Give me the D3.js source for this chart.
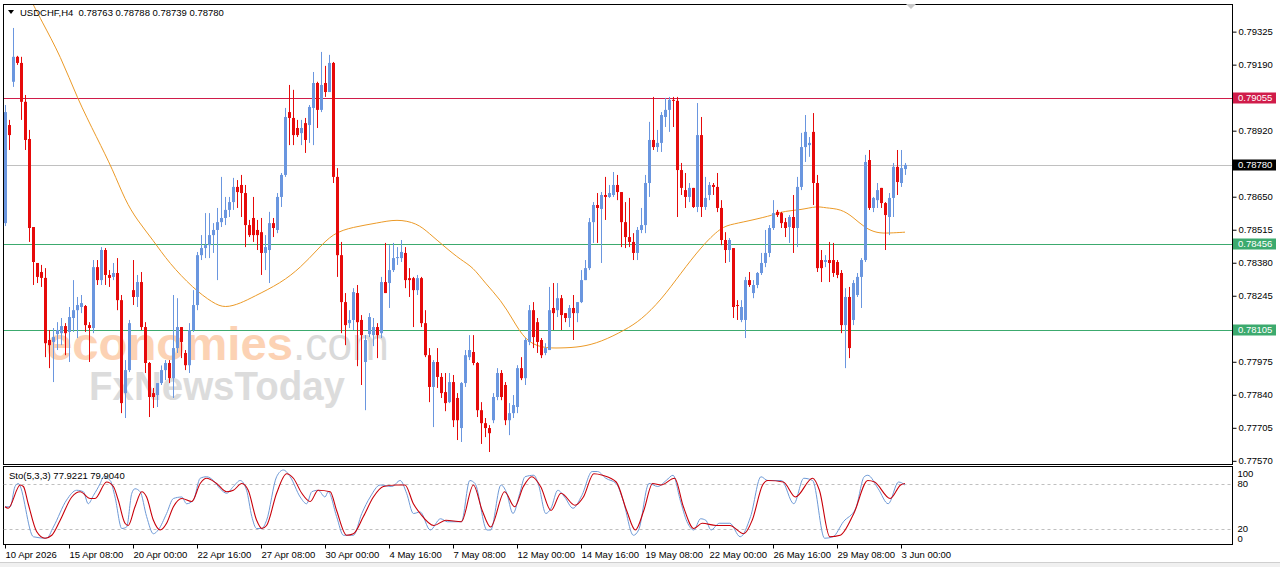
<!DOCTYPE html>
<html>
<head>
<meta charset="utf-8">
<script src="https://cdn.jsdelivr.net/npm/d3@7"></script>
<style>
body{margin:0;background:#fff;}
svg text{font-family:"Liberation Sans",Arial,sans-serif;font-size:9.5px;fill:#000;}
</style>
</head>
<body>
<div class="canvas"></div>
<script>
const symbol = "USDCHF,H4";
const lastQuote = [0.78763, 0.78788, 0.78739, 0.78780];
const stoLast = [77.9221, 79.9040];

// open, high, low, close for every H4 bar
const ohlc = [
[0.78542,0.79025,0.78530,0.78996],[0.78943,0.78964,0.78841,0.78902],[0.79120,0.79340,0.79099,0.79222],[0.79222,0.79226,0.79189,0.79197],
[0.79197,0.79222,0.78964,0.79038],[0.79038,0.79066,0.78841,0.78882],[0.78886,0.78923,0.78465,0.78522],[0.78526,0.78526,0.78289,0.78383],
[0.78379,0.78379,0.78297,0.78322],[0.78342,0.78371,0.78281,0.78318],[0.78318,0.78358,0.77994,0.78051],[0.78064,0.78105,0.77949,0.78043],
[0.78056,0.78113,0.77892,0.78076],[0.78088,0.78137,0.78023,0.78105],[0.78092,0.78154,0.78043,0.78121],[0.78121,0.78133,0.78002,0.78092],
[0.78097,0.78199,0.77974,0.78158],[0.78154,0.78309,0.78097,0.78186],[0.78186,0.78240,0.78072,0.78207],[0.78199,0.78248,0.78174,0.78215],
[0.78203,0.78207,0.78097,0.78125],[0.78125,0.78137,0.77974,0.78113],[0.78113,0.78391,0.78092,0.78362],[0.78362,0.78391,0.78289,0.78309],
[0.78309,0.78444,0.78289,0.78432],[0.78432,0.78440,0.78289,0.78330],[0.78330,0.78350,0.78281,0.78318],[0.78322,0.78379,0.78309,0.78338],
[0.78338,0.78399,0.78186,0.78227],[0.78227,0.78248,0.77765,0.77806],[0.77847,0.77982,0.77745,0.77941],[0.77941,0.78146,0.77933,0.78133],
[0.78268,0.78391,0.78207,0.78240],[0.78240,0.78330,0.78199,0.78301],[0.78301,0.78342,0.78105,0.78117],[0.78117,0.78137,0.77929,0.77970],
[0.77970,0.77974,0.77749,0.77831],[0.77847,0.77868,0.77786,0.77831],[0.77839,0.77888,0.77790,0.77888],[0.77888,0.77960,0.77880,0.77941],
[0.77941,0.77982,0.77900,0.77970],[0.77970,0.77982,0.77888,0.77908],[0.77908,0.78248,0.77827,0.78031],[0.78031,0.78235,0.78011,0.78117],
[0.78117,0.78117,0.77990,0.78056],[0.78011,0.78023,0.77941,0.77961],[0.77961,0.78133,0.77929,0.78105],[0.78105,0.78268,0.78097,0.78207],
[0.78207,0.78424,0.78186,0.78411],[0.78411,0.78493,0.78391,0.78440],[0.78440,0.78583,0.78399,0.78452],[0.78452,0.78583,0.78399,0.78493],
[0.78493,0.78542,0.78420,0.78514],[0.78514,0.78604,0.78309,0.78546],[0.78546,0.78731,0.78526,0.78563],[0.78563,0.78649,0.78534,0.78596],
[0.78596,0.78649,0.78567,0.78628],[0.78628,0.78727,0.78596,0.78690],[0.78690,0.78718,0.78604,0.78669],[0.78698,0.78739,0.78567,0.78665],
[0.78665,0.78698,0.78444,0.78534],[0.78534,0.78555,0.78485,0.78493],[0.78563,0.78649,0.78465,0.78493],[0.78514,0.78555,0.78432,0.78493],
[0.78505,0.78563,0.78330,0.78420],[0.78420,0.78493,0.78350,0.78444],[0.78432,0.78588,0.78297,0.78542],[0.78542,0.78563,0.78485,0.78522],
[0.78514,0.78665,0.78501,0.78649],[0.78649,0.78747,0.78608,0.78739],[0.78739,0.79013,0.78731,0.78976],[0.78996,0.79107,0.78861,0.78972],
[0.78972,0.79087,0.78861,0.78902],[0.78931,0.78964,0.78894,0.78902],[0.78910,0.78964,0.78861,0.78931],[0.78951,0.78972,0.78829,0.78882],
[0.78943,0.79025,0.78870,0.79017],[0.79013,0.79160,0.78861,0.79115],[0.79115,0.79120,0.78931,0.79005],[0.79005,0.79242,0.78996,0.79107],
[0.79115,0.79185,0.79058,0.79078],[0.79078,0.79230,0.79078,0.79197],[0.79197,0.79201,0.78706,0.78731],[0.78731,0.78767,0.78322,0.78411],
[0.78411,0.78465,0.78092,0.78219],[0.78219,0.78256,0.78043,0.78125],[0.78133,0.78186,0.78113,0.78146],[0.78146,0.78276,0.78105,0.78260],
[0.78256,0.78289,0.77957,0.78137],[0.78146,0.78166,0.77880,0.78084],[0.77974,0.78084,0.77777,0.78064],[0.78088,0.78174,0.78076,0.78158],
[0.78084,0.78154,0.78039,0.78117],[0.78117,0.78133,0.77990,0.78084],[0.78092,0.78322,0.78072,0.78301],[0.78301,0.78461,0.78256,0.78256],
[0.78297,0.78452,0.78195,0.78350],[0.78350,0.78461,0.78342,0.78399],[0.78399,0.78444,0.78371,0.78403],[0.78399,0.78473,0.78383,0.78424],
[0.78420,0.78444,0.78276,0.78309],[0.78317,0.78358,0.78240,0.78309],[0.78317,0.78322,0.78117,0.78268],[0.78268,0.78330,0.78248,0.78317],
[0.78317,0.78322,0.78117,0.78133],[0.78133,0.78186,0.77994,0.78002],[0.78002,0.78031,0.77810,0.77872],[0.77872,0.77982,0.77708,0.77974],
[0.77974,0.78031,0.77868,0.77913],[0.77913,0.77929,0.77827,0.77847],[0.77851,0.77929,0.77773,0.77806],[0.77810,0.77929,0.77806,0.77892],
[0.77892,0.77921,0.77708,0.77736],[0.77827,0.77847,0.77655,0.77736],[0.77704,0.77892,0.77647,0.77888],[0.77888,0.78023,0.77872,0.78002],
[0.77994,0.78084,0.77982,0.78023],[0.78015,0.78084,0.77961,0.77970],[0.77970,0.77974,0.77749,0.77777],[0.77777,0.77810,0.77639,0.77724],
[0.77724,0.77745,0.77667,0.77704],[0.77704,0.77716,0.77606,0.77683],[0.77736,0.77847,0.77724,0.77831],[0.77831,0.77949,0.77818,0.77929],
[0.77929,0.77941,0.77818,0.77831],[0.77880,0.77892,0.77716,0.77736],[0.77736,0.77806,0.77675,0.77765],[0.77765,0.77839,0.77745,0.77798],
[0.77790,0.77961,0.77765,0.77949],[0.77949,0.77994,0.77900,0.77908],[0.77908,0.78072,0.77880,0.78064],[0.78056,0.78207,0.78043,0.78186],
[0.78186,0.78219,0.78031,0.78076],[0.78137,0.78154,0.78011,0.78056],[0.78064,0.78072,0.77990,0.78002],[0.78011,0.78051,0.78002,0.78031],
[0.78023,0.78281,0.78023,0.78186],[0.78195,0.78297,0.78105,0.78174],[0.78186,0.78297,0.78158,0.78235],[0.78235,0.78248,0.78105,0.78166],
[0.78174,0.78174,0.78137,0.78154],[0.78154,0.78207,0.78117,0.78195],[0.78195,0.78248,0.78064,0.78174],[0.78174,0.78219,0.78137,0.78219],
[0.78219,0.78350,0.78215,0.78309],[0.78309,0.78391,0.78309,0.78358],[0.78358,0.78563,0.78350,0.78546],[0.78546,0.78628,0.78461,0.78616],
[0.78616,0.78665,0.78461,0.78604],[0.78600,0.78669,0.78379,0.78657],[0.78657,0.78731,0.78555,0.78649],[0.78649,0.78698,0.78645,0.78665],
[0.78657,0.78751,0.78649,0.78698],[0.78698,0.78739,0.78636,0.78669],[0.78669,0.78669,0.78444,0.78546],[0.78546,0.78628,0.78440,0.78485],
[0.78485,0.78645,0.78444,0.78465],[0.78465,0.78501,0.78391,0.78420],[0.78420,0.78526,0.78391,0.78514],[0.78514,0.78604,0.78501,0.78534],
[0.78534,0.78739,0.78501,0.78706],[0.78706,0.78956,0.78649,0.78882],[0.78882,0.79058,0.78841,0.78853],[0.78853,0.78923,0.78833,0.78870],
[0.78870,0.78996,0.78833,0.78984],[0.78976,0.79054,0.78935,0.79005],[0.79005,0.79058,0.78915,0.79046],[0.79046,0.79058,0.78935,0.79042],
[0.79042,0.79058,0.78567,0.78759],[0.78759,0.78788,0.78657,0.78686],[0.78677,0.78747,0.78604,0.78649],[0.78649,0.78706,0.78628,0.78686],
[0.78686,0.78686,0.78604,0.78608],[0.78608,0.79033,0.78587,0.78902],[0.78902,0.78976,0.78567,0.78608],[0.78608,0.78731,0.78596,0.78645],
[0.78657,0.78710,0.78636,0.78698],[0.78698,0.78706,0.78657,0.78690],[0.78690,0.78747,0.78587,0.78604],[0.78604,0.78636,0.78452,0.78473],
[0.78473,0.78505,0.78379,0.78432],[0.78432,0.78481,0.78383,0.78473],[0.78440,0.78440,0.78154,0.78199],[0.78207,0.78227,0.78146,0.78203],
[0.78146,0.78227,0.78137,0.78199],[0.78146,0.78322,0.78072,0.78309],[0.78309,0.78342,0.78281,0.78289],[0.78256,0.78309,0.78235,0.78289],
[0.78289,0.78342,0.78276,0.78338],[0.78338,0.78420,0.78330,0.78379],[0.78379,0.78514,0.78362,0.78420],[0.78420,0.78534,0.78403,0.78522],
[0.78522,0.78636,0.78514,0.78583],[0.78588,0.78596,0.78567,0.78575],[0.78583,0.78588,0.78522,0.78542],[0.78546,0.78563,0.78485,0.78522],
[0.78526,0.78575,0.78461,0.78567],[0.78567,0.78657,0.78420,0.78522],[0.78522,0.78731,0.78444,0.78690],[0.78690,0.78911,0.78677,0.78853],
[0.78853,0.78984,0.78792,0.78915],[0.78861,0.78894,0.78813,0.78870],[0.78915,0.78992,0.78616,0.78706],[0.78706,0.78739,0.78342,0.78358],
[0.78391,0.78432,0.78301,0.78358],[0.78383,0.78411,0.78362,0.78391],[0.78391,0.78465,0.78301,0.78379],[0.78391,0.78461,0.78322,0.78338],
[0.78383,0.78391,0.78317,0.78330],[0.78338,0.78350,0.78092,0.78125],[0.78125,0.78276,0.77949,0.78240],[0.78240,0.78281,0.77990,0.78031],
[0.78146,0.78309,0.78125,0.78297],[0.78248,0.78338,0.78240,0.78322],[0.78322,0.78399,0.78195,0.78391],[0.78391,0.78821,0.78383,0.78792],
[0.78800,0.78841,0.78596,0.78604],[0.78604,0.78649,0.78587,0.78645],[0.78636,0.78706,0.78604,0.78677],[0.78686,0.78686,0.78604,0.78624],
[0.78624,0.78628,0.78432,0.78575],[0.78567,0.78665,0.78493,0.78645],[0.78645,0.78788,0.78567,0.78772],[0.78772,0.78841,0.78657,0.78710],
[0.78706,0.78841,0.78690,0.78767],[0.78763,0.78788,0.78739,0.78780]
];

// moving average, read at a few bars
const maIdx = [6,9,14,18,23,27,30,33,37,41,47,52,55,59,62,69,74,78,82,87,93,98,103,106,110,114,117,120,124,127,130,134,139,144,149,155,159,164,169,174,179,182,187,192,195,199,203,205,209,212,215,218,221,225];
const maVal = [0.79470,0.79373,0.79222,0.79054,0.78890,0.78759,0.78636,0.78555,0.78473,0.78379,0.78276,0.78215,0.78194,0.78215,0.78240,0.78297,0.78362,0.78432,0.78501,0.78526,0.78542,0.78559,0.78542,0.78501,0.78444,0.78391,0.78362,0.78297,0.78227,0.78146,0.78064,0.78031,0.78031,0.78035,0.78056,0.78105,0.78146,0.78227,0.78338,0.78444,0.78526,0.78538,0.78555,0.78575,0.78592,0.78596,0.78612,0.78604,0.78600,0.78567,0.78522,0.78501,0.78501,0.78505];

// stochastic %K (main) and %D (signal) as [bar, value]
const stochK = [[0,49],[1.3,49],[2.5,76],[3.3,80],[7.1,9],[10.4,7],[12.1,22],[15.4,58],[17.9,71],[19.6,69],[20.8,53],[22.1,64],[23.8,80],[24.6,89],[26.3,84],[27.5,62],[29.2,20],[30.4,22],[31.7,67],[32.5,73],[33.8,69],[35.4,36],[37.1,13],[38.3,18],[40.4,40],[42.1,60],[44.2,62],[45.4,53],[47.1,58],[48.8,87],[50.4,89],[52.1,84],[53.8,73],[55.4,67],[57.1,76],[58.8,84],[60.4,71],[61.7,36],[62.9,20],[64.2,20],[65.4,31],[67.9,89],[69.6,98],[71.3,89],[73.8,62],[75.4,53],[76.7,69],[78.3,71],[80,62],[80.8,69],[82.9,36],[84.6,11],[87.1,11],[89.2,40],[91.3,62],[93.8,78],[96.7,76],[98.8,84],[100.4,67],[102.1,40],[103.8,42],[106.3,18],[108.9,33],[110.6,29],[114.1,29],[116.2,84],[117.5,80],[120.5,18],[121.4,18],[124,78],[125.3,69],[127,40],[128.7,67],[130,89],[132.2,91],[133.4,78],[135.2,40],[136.5,47],[138.2,71],[139.9,62],[142,47],[144.2,64],[146.8,96],[148.1,96],[150.2,87],[152.8,80],[154.5,58],[157.1,11],[158.4,18],[161,80],[163.2,76],[165.3,84],[167,91],[168.8,58],[170.5,29],[172.2,18],[173.9,33],[175.2,31],[176.5,18],[178.6,27],[181.2,27],[183.8,9],[186.4,36],[189,89],[190.7,84],[194.1,84],[197.2,53],[199.7,87],[201.9,84],[204.9,7],[207,9],[209.6,29],[212.7,47],[214.8,89],[215.7,91],[218.3,73],[220.8,53],[223.4,82],[225,77.9221]];
const stochD = [[0,49],[0.8,47],[3.8,78],[4.6,76],[5.8,53],[7.9,16],[10,7],[11.7,11],[13.8,31],[16.7,62],[18.8,69],[21.3,60],[22.5,60],[25.4,82],[27.1,76],[28.3,58],[30,27],[30.8,24],[32.5,49],[34.2,69],[35.4,62],[37.1,31],[38.8,18],[40.4,27],[42.1,49],[44.2,60],[46.7,56],[48.8,80],[50.4,87],[52.9,80],[55.4,69],[57.1,71],[59.2,80],[60.8,71],[62.9,31],[64.2,20],[65.4,24],[67.9,67],[70.4,93],[72.1,87],[74.2,67],[76.3,56],[78.3,71],[81.3,69],[82.9,44],[85.4,11],[87.1,13],[89.6,36],[92.1,62],[94.6,76],[97.9,78],[100,78],[102.1,53],[103.8,40],[107.2,24],[110.2,31],[114.1,29],[117.1,78],[119.3,44],[121.4,22],[124.9,69],[127.4,49],[129.6,76],[131.7,89],[133.9,76],[136.5,44],[139,67],[142.5,51],[144.6,62],[147.2,93],[149.4,91],[152.8,82],[155.4,44],[157.6,18],[159.7,44],[161.9,80],[164,78],[167.4,87],[169.6,49],[172.2,20],[174.3,27],[177.8,24],[181.2,24],[184.7,13],[186.8,31],[189.4,78],[190.7,84],[194.6,82],[197.6,62],[201.9,87],[203.6,71],[206.2,9],[208.8,11],[212.2,40],[215.7,84],[217.4,82],[221.3,60],[223.9,78],[225,79.904]];

const priceTicks = [0.79325,0.79190,0.79055,0.78920,0.78785,0.78650,0.78515,0.78380,0.78245,0.78110,0.77975,0.77840,0.77705,0.77570];
const stoTicks = [100, 80, 20, 0];
const stoLevels = [80, 20];
const levels = [0.79055, 0.78456, 0.78105];
const timeLabels = ["10 Apr 2026","15 Apr 08:00","20 Apr 00:00","22 Apr 16:00","27 Apr 08:00","30 Apr 00:00","4 May 16:00","7 May 08:00","12 May 00:00","14 May 16:00","19 May 08:00","22 May 00:00","26 May 16:00","29 May 08:00","3 Jun 00:00"];
const labelStep = 16;

const dims = {width:1280, height:567};
const pane = {left:3.5, right:1232.5, top:4.5, bottom:464.5};
const sto = {top:466.5, bottom:544.5};
const bull = "#6a96df", bear = "#e60a0a";
const levelColor = ["#d01c4a", "#3caa6e", "#3caa6e"];

const svg = d3.select(".canvas").append("svg")
    .attr("width", dims.width)
    .attr("height", dims.height);

svg.append("rect").attr("width", dims.width).attr("height", dims.height).attr("fill", "#fff");
svg.append("rect").attr("x", 0).attr("y", 562).attr("width", dims.width).attr("height", 5).attr("fill", "#f0f0f0");
svg.append("line").attr("x1", 0).attr("x2", dims.width).attr("y1", 562.5).attr("y2", 562.5).attr("stroke", "#cfcfcf");

// scales
const x = d3.scaleLinear().domain([0, ohlc.length - 1]).range([5, 905]);
const y = d3.scaleLinear().domain([0.77557, 0.79438]).range([464, 4]);
const ys = d3.scaleLinear().domain([0, 100]).range([543.5, 468.5]);

const defs = svg.append("defs");
defs.append("clipPath").attr("id", "clipPrice").append("rect")
    .attr("x", pane.left).attr("y", pane.top).attr("width", pane.right - pane.left).attr("height", pane.bottom - pane.top);
defs.append("clipPath").attr("id", "clipSto").append("rect")
    .attr("x", pane.left).attr("y", sto.top).attr("width", pane.right - pane.left).attr("height", sto.bottom - sto.top);

// watermark sits behind the bars (one text, two lines)
const wt = svg.append("text").attr("x", 46).attr("y", 360)
    .style("font-size", "47px").style("pointer-events", "none");
wt.append("tspan").text("economies").style("fill", "#fcd2b4").style("font-weight", "bold")
    .attr("textLength", 247).attr("lengthAdjust", "spacingAndGlyphs");
wt.append("tspan").text(".com").style("fill", "#dadada")
    .attr("textLength", 96).attr("lengthAdjust", "spacingAndGlyphs");
wt.append("tspan").attr("x", 89).attr("y", 400).text("FxNewsToday")
    .style("font-size", "41px").style("font-weight", "bold").style("fill", "#dcdcdc")
    .attr("textLength", 256).attr("lengthAdjust", "spacingAndGlyphs");

const graph = svg.append("g").attr("clip-path", "url(#clipPrice)");

// horizontal levels + current price line
graph.selectAll("line.level")
    .data(levels)
    .enter().append("line")
    .attr("x1", pane.left).attr("x2", pane.right)
    .attr("y1", d => Math.round(y(d)) + 0.5).attr("y2", d => Math.round(y(d)) + 0.5)
    .attr("stroke", (d, i) => levelColor[i]);

graph.append("line")
    .attr("x1", pane.left).attr("x2", pane.right)
    .attr("y1", Math.round(y(lastQuote[3])) + 0.5).attr("y2", Math.round(y(lastQuote[3])) + 0.5)
    .attr("stroke", "#c0c0c0");

// moving average
const maLine = d3.line()
    .x((d, i) => x(maIdx[i]))
    .y(d => y(d))
    .curve(d3.curveBasis);
graph.append("path")
    .attr("d", maLine(maVal))
    .attr("fill", "none")
    .attr("stroke", "#eb9a28")
    .attr("stroke-width", 1);

// candles
const candles = graph.selectAll("g.candle")
    .data(ohlc)
    .enter().append("g");

candles.append("line")
    .attr("x1", (d, i) => Math.round(x(i)) + 0.5)
    .attr("x2", (d, i) => Math.round(x(i)) + 0.5)
    .attr("y1", d => y(d[1]))
    .attr("y2", d => y(d[2]))
    .attr("stroke", d => d[3] >= d[0] ? bull : bear);

candles.append("rect")
    .attr("x", (d, i) => Math.round(x(i)) - 1)
    .attr("width", 3)
    .attr("y", d => y(Math.max(d[0], d[3])))
    .attr("height", d => Math.max(1, Math.abs(y(d[0]) - y(d[3]))))
    .attr("fill", d => d[3] >= d[0] ? bull : bear);

// pane frames
svg.append("rect").attr("x", pane.left).attr("y", pane.top)
    .attr("width", pane.right - pane.left).attr("height", pane.bottom - pane.top)
    .attr("fill", "none").attr("stroke", "#000");
svg.append("rect").attr("x", pane.left).attr("y", sto.top)
    .attr("width", pane.right - pane.left).attr("height", sto.bottom - sto.top)
    .attr("fill", "none").attr("stroke", "#000");

// price axis
const yAxis = d3.axisRight(y)
    .tickValues(priceTicks)
    .tickSize(4)
    .tickFormat(d3.format(".5f"));
svg.append("g")
    .attr("transform", `translate(${pane.right},0)`)
    .call(yAxis)
    .call(g => g.select(".domain").remove())
    .call(g => g.selectAll("text").attr("x", 6).attr("font-size", null).attr("font-family", null));

// level boxes on the axis
const boxData = levels.map((v, i) => ({v, fill: levelColor[i]})).concat([{v: lastQuote[3], fill: "#000"}]);
const boxes = svg.selectAll("g.box").data(boxData).enter().append("g")
    .attr("transform", d => `translate(${pane.right + 0.5},${Math.round(y(d.v))})`);
boxes.append("rect").attr("x", 0).attr("y", -5.5).attr("width", 43).attr("height", 11)
    .attr("fill", d => d.fill);
boxes.append("text").attr("x", 5).attr("dy", "0.35em").text(d => d3.format(".5f")(d.v))
    .style("fill", "#fff");

// header
svg.append("path").attr("d", "M8,10 L14,10 L11,14 Z").attr("fill", "#000");
svg.append("text").attr("x", 20).attr("y", 16)
    .text(`${symbol}  ${lastQuote.map(d3.format(".5f")).join(" ")}`)
    .attr("xml:space", "preserve");
svg.append("path").attr("d", "M906,4 L916,4 L911,9 Z").attr("fill", "#c8c8c8");

// stochastic pane
const sg = svg.append("g").attr("clip-path", "url(#clipSto)");
sg.selectAll("line.lvl").data(stoLevels).enter().append("line")
    .attr("x1", pane.left).attr("x2", pane.right)
    .attr("y1", d => Math.round(ys(d)) + 0.5).attr("y2", d => Math.round(ys(d)) + 0.5)
    .attr("stroke", "#c0c0c0").attr("stroke-dasharray", "3,3");

const stoLine = d3.line()
    .x(d => x(d[0]))
    .y(d => ys(d[1]))
    .curve(d3.curveMonotoneX);
sg.append("path").attr("d", stoLine(stochK)).attr("fill", "none").attr("stroke", "#6f9ad6").attr("stroke-width", 1);
sg.append("path").attr("d", stoLine(stochD)).attr("fill", "none").attr("stroke", "#c8000a").attr("stroke-width", 1.1);

svg.append("text").attr("x", 9).attr("y", 479)
    .text(`Sto(5,3,3) ${stoLast[0].toFixed(4)} ${stoLast[1].toFixed(4)}`);

svg.selectAll("text.stoTick").data(stoTicks).enter().append("text")
    .attr("x", pane.right + 5)
    .attr("y", d => d === 100 ? ys(d) + 8 : d === 0 ? ys(d) - 2 : ys(d) + 3.5)
    .text(d => d);

// time axis
const xAxis = d3.axisBottom(x)
    .tickValues(d3.range(0, ohlc.length, labelStep))
    .tickSize(4)
    .tickFormat((d, i) => timeLabels[i]);
svg.append("g")
    .attr("transform", `translate(0,${sto.bottom})`)
    .call(xAxis)
    .call(g => g.select(".domain").remove())
    .call(g => g.selectAll("text").attr("text-anchor", "start").attr("x", 0).attr("font-size", null).attr("font-family", null));
</script>
</body>
</html>
